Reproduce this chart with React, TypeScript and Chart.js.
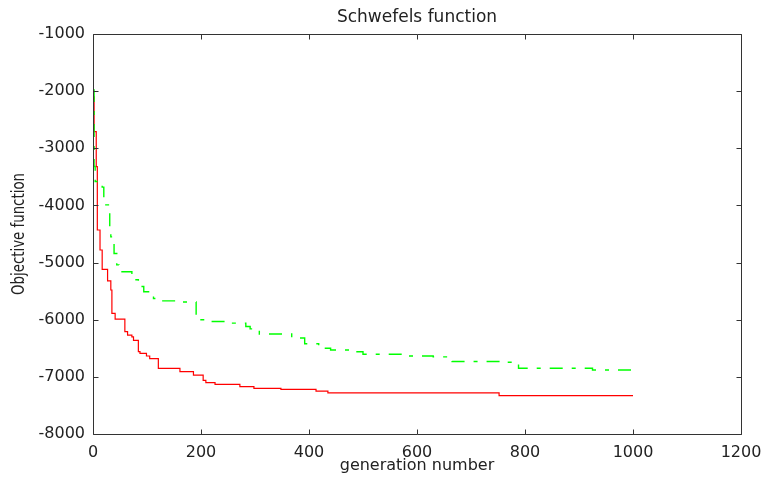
import React, { useEffect, useRef } from 'react';
import { Chart, registerables } from 'chart.js';

Chart.register(...registerables);

const titleText = 'Schwefels function';
const xLabel = 'generation number';
const yLabel = 'Objective function';

const xTicks = [0, 200, 400, 600, 800, 1000, 1200];
const yTicks = [-8000, -7000, -6000, -5000, -4000, -3000, -2000, -1000];

const redGen = [0, 2, 6, 8, 13, 17, 27, 33, 35, 41, 59, 64, 72, 75, 84, 87, 99, 105, 121, 161, 186, 204, 209, 226, 272, 298, 348, 413, 435, 752, 1000];
const redVal = [-2100, -2710, -3320, -4430, -4780, -5120, -5320, -5480, -5890, -5990, -6210, -6270, -6300, -6360, -6560, -6590, -6635, -6680, -6850, -6910, -6970, -7060, -7100, -7130, -7170, -7200, -7220, -7250, -7280, -7330, -7330];

const greenGen = [0, 2, 4, 17, 20, 31, 33, 39, 44, 48, 72, 84, 94, 112, 128, 165, 191, 215, 255, 283, 291, 308, 368, 392, 418, 440, 480, 500, 584, 630, 665, 760, 788, 925, 1000];
const greenVal = [-1980, -3320, -3580, -3680, -3990, -4430, -4550, -4840, -5040, -5160, -5300, -5420, -5510, -5630, -5670, -5690, -6000, -6030, -6060, -6120, -6160, -6250, -6320, -6420, -6500, -6530, -6560, -6605, -6635, -6650, -6730, -6745, -6850, -6880, -6880];

const FONT = '"DejaVu Sans", sans-serif';
const TEXT = '#222';
const AXIS = '#333';

const framePlugin = {
  id: 'frame',
  afterDraw(chart: any) {
    const { ctx, chartArea: a, scales } = chart;
    const L = Math.round(a.left) + 0.5;
    const R = Math.round(a.right) + 0.5;
    const T = Math.round(a.top) + 0.5;
    const B = Math.round(a.bottom) + 0.5;
    const tl = 5;
    ctx.save();
    ctx.strokeStyle = AXIS;
    ctx.lineWidth = 1;
    ctx.beginPath();
    ctx.rect(L, T, R - L, B - T);
    xTicks.forEach((v) => {
      const px = Math.round(scales.x.getPixelForValue(v)) + 0.5;
      ctx.moveTo(px, B);
      ctx.lineTo(px, B - tl);
      ctx.moveTo(px, T);
      ctx.lineTo(px, T + tl);
    });
    yTicks.forEach((v) => {
      const py = Math.round(scales.y.getPixelForValue(v)) + 0.5;
      ctx.moveTo(L, py);
      ctx.lineTo(L + tl, py);
      ctx.moveTo(R, py);
      ctx.lineTo(R - tl, py);
    });
    ctx.stroke();

    ctx.fillStyle = TEXT;
    ctx.textAlign = 'center';
    ctx.textBaseline = 'middle';
    const cx = (a.left + a.right) / 2;
    ctx.font = `17px ${FONT}`;
    ctx.fillText(titleText, cx, 18);
    ctx.font = `16px ${FONT}`;
    ctx.fillText(xLabel, cx, 466);
    ctx.translate(20, (a.top + a.bottom) / 2);
    ctx.rotate(-Math.PI / 2);
    ctx.font = `17px ${FONT}`;
    const w = ctx.measureText(yLabel).width;
    ctx.scale(122 / w, 1);
    ctx.fillText(yLabel, 0, 0);
    ctx.restore();
  },
};

export default function App() {
  const ref = useRef<HTMLCanvasElement | null>(null);

  useEffect(() => {
    if (!ref.current) return;
    const chart = new Chart(ref.current, {
      type: 'line',
      data: {
        datasets: [
          {
            label: 'green',
            data: greenGen.map((g, i) => ({ x: g, y: greenVal[i] })),
            borderColor: 'rgb(0,255,0)',
            borderWidth: 1.4,
            borderDash: [13, 9, 4, 9],
            stepped: 'before',
            pointRadius: 0,
            fill: false,
          },
          {
            label: 'red',
            data: redGen.map((g, i) => ({ x: g, y: redVal[i] })),
            borderColor: 'rgb(255,0,0)',
            borderWidth: 1.2,
            stepped: 'before',
            pointRadius: 0,
            fill: false,
          },
        ],
      },
      options: {
        responsive: false,
        animation: false,
        devicePixelRatio: 1,
        layout: { padding: { left: 0, right: 20, top: 34, bottom: 0 } },
        plugins: {
          legend: { display: false },
          title: { display: false },
          tooltip: { enabled: false },
        },
        scales: {
          x: {
            type: 'linear',
            min: 0,
            max: 1200,
            grid: { display: false, drawTicks: false },
            border: { display: false },
            ticks: {
              stepSize: 200,
              padding: 9,
              color: TEXT,
              font: { family: FONT, size: 16 },
              maxRotation: 0,
              autoSkip: false,
              callback: (v: any) => String(v),
            },
            afterFit: (s: any) => {
              s.height = 44;
              s.paddingLeft = 0;
              s.paddingRight = 0;
            },
          },
          y: {
            type: 'linear',
            min: -8000,
            max: -1000,
            grid: { display: false, drawTicks: false },
            border: { display: false },
            ticks: {
              stepSize: 1000,
              padding: 8,
              color: TEXT,
              font: { family: FONT, size: 16 },
              autoSkip: false,
              callback: (v: any) => String(v),
            },
            afterFit: (s: any) => {
              s.width = 93;
              s.paddingTop = 0;
              s.paddingBottom = 0;
            },
          },
        },
      },
      plugins: [framePlugin],
    });
    return () => chart.destroy();
  }, []);

  return (
    <div style={{ position: 'absolute', left: 0, top: 0, width: 761, height: 478, background: '#fff' }}>
      <canvas ref={ref} width={761} height={478} style={{ display: 'block' }} />
    </div>
  );
}
